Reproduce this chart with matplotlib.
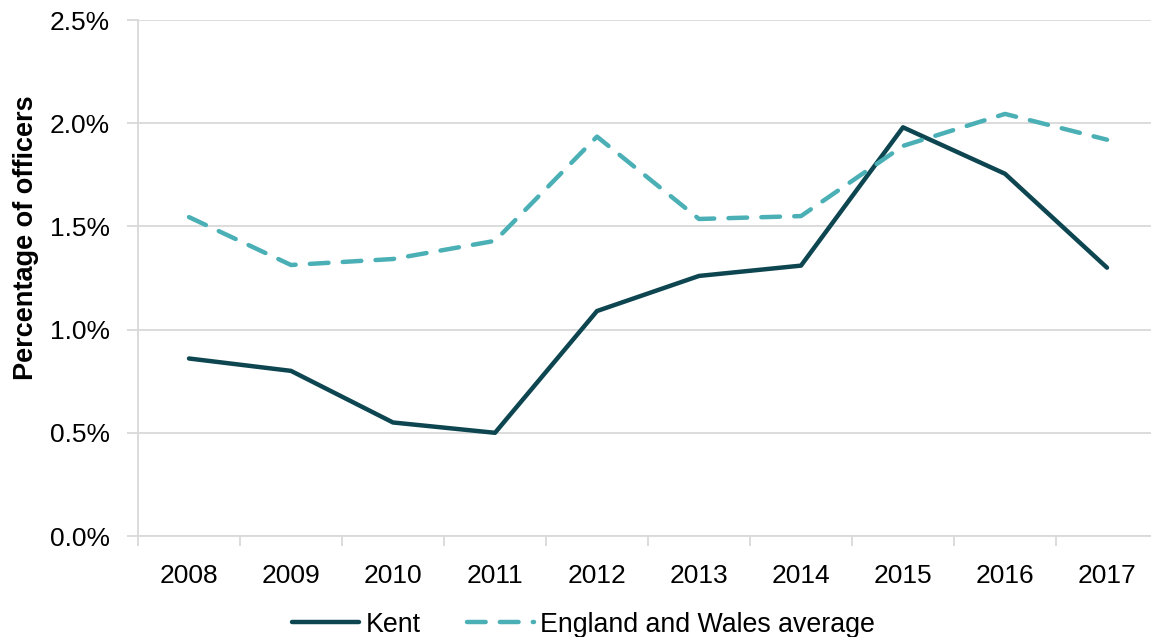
import matplotlib.pyplot as plt
from matplotlib.ticker import FuncFormatter, FixedLocator

plt.rcParams['font.family'] = ['Liberation Sans', 'DejaVu Sans']

years = ['2008', '2009', '2010', '2011', '2012', '2013', '2014', '2015', '2016', '2017']
kent = [0.86, 0.80, 0.55, 0.50, 1.09, 1.26, 1.31, 1.98, 1.755, 1.30]
england_wales = [1.545, 1.313, 1.342, 1.43, 1.935, 1.536, 1.55, 1.89, 2.045, 1.92]

grid_col = '#d9d9d9'

fig = plt.figure(figsize=(11.51, 6.37), dpi=100)
ax = fig.add_axes([138 / 1151, 101 / 637, 1020 / 1151, 516 / 637])

x = range(len(years))
ax.plot(x, kent, color='#0d4650', lw=3.2, solid_capstyle='round',
        solid_joinstyle='round', label='Kent', zorder=3)
ax.plot(x, england_wales, color='#4bb0b5', lw=3.2, dashes=(4.2, 3.2),
        dash_capstyle='round', label='England and Wales average', zorder=3)

ax.set_xlim(-0.5, len(years) - 0.5)
ax.set_ylim(0, 2.5)
ax.set_yticks([0, 0.5, 1.0, 1.5, 2.0, 2.5])
ax.yaxis.set_major_formatter(FuncFormatter(lambda v, p: f'{v:.1f}%'))
ax.set_xticks(list(x))
ax.set_xticklabels(years)
ax.xaxis.set_minor_locator(FixedLocator([i - 0.5 for i in range(len(years) + 1)]))

ax.grid(axis='y', color=grid_col, lw=1.3)
ax.set_axisbelow(True)
for side in ['top', 'right']:
    ax.spines[side].set_visible(False)
ax.spines['left'].set_color(grid_col)
ax.spines['bottom'].set_color(grid_col)
ax.spines['left'].set_linewidth(1.3)
ax.spines['bottom'].set_linewidth(1.3)

ax.tick_params(axis='y', length=8, width=1.3, color=grid_col, labelsize=19, pad=12)
ax.tick_params(axis='x', which='major', length=0, labelsize=19, pad=20)
ax.tick_params(axis='x', which='minor', length=7, width=1.3, color=grid_col)

ax.set_ylabel('Percentage of officers', fontsize=19.5, fontweight='bold')
ax.yaxis.set_label_coords(-0.097, 0.578)

ax.legend(loc='center', bbox_to_anchor=(0.437, -0.172), ncol=2,
          frameon=False, fontsize=19.3, handlelength=2.5, handletextpad=0.23,
          columnspacing=1.75)

fig.savefig('out.png', dpi=100)
